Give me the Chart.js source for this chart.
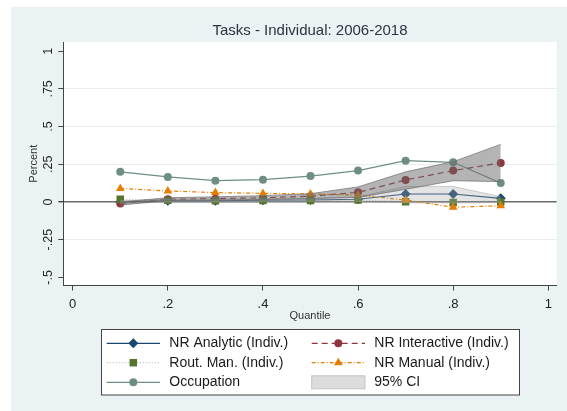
<!DOCTYPE html>
<html>
<head>
<meta charset="utf-8">
<script src="https://cdn.jsdelivr.net/npm/chart.js@4/dist/chart.umd.min.js"></script>
<style>
  html, body { margin:0; padding:0; background:#fff; }
  canvas { display:block; }
</style>
</head>
<body>
<canvas id="chart" width="567" height="411"></canvas>
<script>
// Data
const QUANTILES = [0.1, 0.2, 0.3, 0.4, 0.5, 0.6, 0.7, 0.8, 0.9];
const NR_ANALYTIC    = [0.000, 0.008, 0.008, 0.012, 0.013, 0.018, 0.053, 0.053, 0.024];
const NR_INTERACTIVE = [-0.010, 0.018, 0.022, 0.028, 0.038, 0.064, 0.146, 0.208, 0.259];
const ROUT_MAN       = [0.018, 0.012, 0.008, 0.010, 0.010, 0.013, 0.002, -0.003, 0.000];
const NR_MANUAL      = [0.090, 0.073, 0.062, 0.057, 0.053, 0.045, 0.013, -0.035, -0.025];
const OCCUPATION     = [0.200, 0.166, 0.141, 0.148, 0.172, 0.208, 0.274, 0.263, 0.126];
// 95% CI
const CI_INT_LO = [-0.020, 0.008, 0.012, 0.016, 0.022, 0.030, 0.084, 0.141, 0.135];
const CI_INT_HI = [0.000, 0.028, 0.034, 0.042, 0.055, 0.100, 0.200, 0.267, 0.382];
const CI_ANA_LO = [-0.008, 0.000, 0.000, 0.004, 0.004, 0.004, -0.006, -0.006, -0.004];
const CI_ANA_HI = [0.008, 0.016, 0.016, 0.020, 0.024, 0.034, 0.103, 0.103, 0.035];

const X_TICKS = [0, 0.2, 0.4, 0.6, 0.8, 1];
const Y_TICKS = [-0.5, -0.25, 0, 0.25, 0.5, 0.75, 1];
const Y_GRID  = [-0.25, 0.25, 0.5, 0.75];

const TITLE = 'Tasks - Individual: 2006-2018';
const FONT = '"Liberation Sans", Arial, Helvetica, sans-serif';

const C = {
  analytic: '#1a476f',
  interactive: '#90353b',
  routine: '#55752f',
  manual: '#e37e00',
  occupation: '#6e8e84'
};

const pts = arr => arr.map((v,i) => ({ x: QUANTILES[i], y: v }));
const fmt = v => v === 0 ? '0' : String(v).replace('0.', '.');

function marker(ctx, style, x, y, r, color){
  ctx.save();
  ctx.fillStyle = color;
  ctx.beginPath();
  if(style === 'circle'){ ctx.arc(x, y, r, 0, Math.PI*2); }
  else if(style === 'rect'){ const s = r*Math.SQRT1_2; ctx.rect(x-s, y-s, 2*s, 2*s); }
  else if(style === 'rectRot'){ ctx.moveTo(x-r,y); ctx.lineTo(x,y-r); ctx.lineTo(x+r,y); ctx.lineTo(x,y+r); ctx.closePath(); }
  else if(style === 'triangle'){
    const h = r*1.5, w = r*Math.sqrt(3);
    ctx.moveTo(x-w/2, y+h/3); ctx.lineTo(x+w/2, y+h/3); ctx.lineTo(x, y-2*h/3); ctx.closePath();
  }
  ctx.fill();
  ctx.restore();
}

const LEGEND = [
  { label:'NR Analytic (Indiv.)',    color:C.analytic,    dash:[],          style:'rectRot',  r:5,   col:0, row:0 },
  { label:'NR Interactive (Indiv.)', color:C.interactive, dash:[6,4],       style:'circle',   r:4,   col:1, row:0 },
  { label:'Rout. Man. (Indiv.)',     color:C.routine,     dash:[1,2],       style:'rect',     r:5.3, col:0, row:1, lineColor:'rgba(120,140,110,0.55)' },
  { label:'NR Manual (Indiv.)',      color:C.manual,      dash:[4,2,1,2],   style:'triangle', r:5,   col:1, row:1 },
  { label:'Occupation',              color:C.occupation,  dash:[],          style:'circle',   r:4,   col:0, row:2 },
  { label:'95% CI', box:true, col:1, row:2 }
];

const stataLook = {
  id:'stataLook',
  beforeDraw(chart){
    const { ctx, chartArea:a } = chart;
    ctx.save();
    ctx.fillStyle = '#eaf2f3';
    ctx.fillRect(11, 7, chart.width-11, chart.height-7);
    ctx.fillStyle = '#ffffff';
    ctx.fillRect(a.left, a.top, a.right-a.left, a.bottom-a.top);
    ctx.restore();
  },
  afterDraw(chart){
    const { ctx, chartArea:a, scales:{x, y} } = chart;
    ctx.save();
    // title
    ctx.fillStyle = '#2c3440';
    ctx.font = `15px ${FONT}`;
    ctx.textAlign = 'center';
    ctx.textBaseline = 'middle';
    ctx.fillText(TITLE, (a.left+a.right)/2, 31);

    // y tick labels (rotated)
    ctx.fillStyle = '#222';
    ctx.font = `12.5px ${FONT}`;
    Y_TICKS.forEach(v=>{
      const py = y.getPixelForValue(v);
      ctx.save();
      ctx.translate(49, py);
      ctx.rotate(-Math.PI/2);
      ctx.textAlign = 'center';
      ctx.textBaseline = 'middle';
      ctx.fillText(fmt(v), 0, 0);
      ctx.restore();
    });
    // x tick labels
    ctx.font = `13px ${FONT}`;
    ctx.textAlign = 'center';
    ctx.textBaseline = 'middle';
    X_TICKS.forEach(v=>{
      ctx.fillText(fmt(v), x.getPixelForValue(v), 304);
    });
    // axis titles
    ctx.font = `11px ${FONT}`;
    ctx.fillStyle = '#333';
    ctx.fillText('Quantile', (a.left+a.right)/2, 316);
    ctx.save();
    ctx.translate(34, (a.top+a.bottom)/2);
    ctx.rotate(-Math.PI/2);
    ctx.fillText('Percent', 0, 0);
    ctx.restore();

    // legend
    ctx.fillStyle = '#ffffff';
    ctx.fillRect(101.5, 329.5, 418, 65.5);
    ctx.strokeStyle = '#444';
    ctx.lineWidth = 1;
    ctx.strokeRect(101.5, 329.5, 418, 65.5);
    const colX = [106.7, 311.7];
    const rowY = [343.3, 362.7, 382.3];
    ctx.font = `14px ${FONT}`;
    ctx.textAlign = 'left';
    ctx.textBaseline = 'middle';
    LEGEND.forEach(e=>{
      const x0 = colX[e.col], yy = rowY[e.row];
      if(e.box){
        ctx.fillStyle = '#dcdcdc';
        ctx.fillRect(x0, yy-6.5, 53.3, 13);
        ctx.strokeStyle = '#c4c4c4';
        ctx.strokeRect(x0, yy-6.5, 53.3, 13);
      } else {
        ctx.save();
        ctx.strokeStyle = e.lineColor || e.color;
        ctx.lineWidth = 1.2;
        ctx.setLineDash(e.dash);
        ctx.beginPath();
        ctx.moveTo(x0, yy); ctx.lineTo(x0+53.3, yy);
        ctx.stroke();
        ctx.restore();
        marker(ctx, e.style, x0+26.6, yy, e.r, e.color);
      }
      ctx.fillStyle = '#1a1a1a';
      ctx.fillText(e.label, x0+62.6, yy);
    });
    ctx.restore();
  }
};

function series(label, data, color, style, radius, dash, order, lineColor){
  return {
    label, data: pts(data), order,
    borderColor: lineColor || color, backgroundColor: color,
    borderWidth: 1.2, borderDash: dash,
    pointStyle: style, pointRadius: radius, pointBorderWidth: 0,
    pointBackgroundColor: color, pointBorderColor: color,
    fill: false, tension: 0
  };
}

const datasets = [
  // interactive CI (on top)
  { label:'ci_int_hi', data: pts(CI_INT_HI), order:0, fill:'+1',
    backgroundColor:'rgba(105,105,105,0.5)', borderColor:'rgba(115,115,115,0.75)', borderWidth:1, pointRadius:0 },
  { label:'ci_int_lo', data: pts(CI_INT_LO), order:0, fill:false,
    borderColor:'rgba(115,115,115,0.75)', borderWidth:1, pointRadius:0 },
  // analytic CI
  { label:'ci_ana_hi', data: pts(CI_ANA_HI), order:1, fill:'+1',
    backgroundColor:'rgba(165,165,165,0.3)', borderColor:'rgba(160,160,160,0.5)', borderWidth:1, pointRadius:0 },
  { label:'ci_ana_lo', data: pts(CI_ANA_LO), order:1, fill:false,
    borderColor:'rgba(160,160,160,0.5)', borderWidth:1, pointRadius:0 },
  series('NR Manual (Indiv.)', NR_MANUAL, C.manual, 'triangle', 5, [4,2,1,2], 2),
  series('Rout. Man. (Indiv.)', ROUT_MAN, C.routine, 'rect', 5.3, [1,2], 3, 'rgba(120,140,110,0.55)'),
  series('NR Interactive (Indiv.)', NR_INTERACTIVE, C.interactive, 'circle', 4, [6,4], 4),
  series('NR Analytic (Indiv.)', NR_ANALYTIC, C.analytic, 'rectRot', 5, [], 5),
  series('Occupation', OCCUPATION, C.occupation, 'circle', 4, [], 6)
];

new Chart(document.getElementById('chart'), {
  type: 'line',
  data: { datasets },
  plugins: [stataLook],
  options: {
    responsive: false,
    animation: false,
    layout: { padding: { left:0, right:10.3, top:42, bottom:0 } },
    plugins: { legend:{ display:false }, title:{ display:false }, tooltip:{ enabled:false } },
    scales: {
      x: {
        type: 'linear', min: -0.0198, max: 1.0177,
        afterFit: s => { s.height = 125.5; },
        afterBuildTicks: s => { s.ticks = X_TICKS.map(v => ({ value: v })); },
        ticks: { display:false },
        grid: { drawOnChartArea:false, drawTicks:true, tickLength:5, tickColor:'#444', color:'transparent' },
        border: { display:true, color:'#444', width:1 }
      },
      y: {
        type: 'linear', min: -0.554, max: 1.061,
        afterFit: s => { s.width = 63.3; },
        afterBuildTicks: s => { s.ticks = Y_TICKS.map(v => ({ value: v })); },
        ticks: { display:false },
        grid: {
          drawTicks:true, tickLength:5, tickColor:'#444',
          color: c => c.tick.value === 0 ? '#6a6a6a' : (Y_GRID.includes(c.tick.value) ? '#e6eef1' : 'transparent'),
          lineWidth: c => c.tick.value === 0 ? 1.4 : 1
        },
        border: { display:true, color:'#444', width:1 }
      }
    }
  }
});
</script>
</body>
</html>
